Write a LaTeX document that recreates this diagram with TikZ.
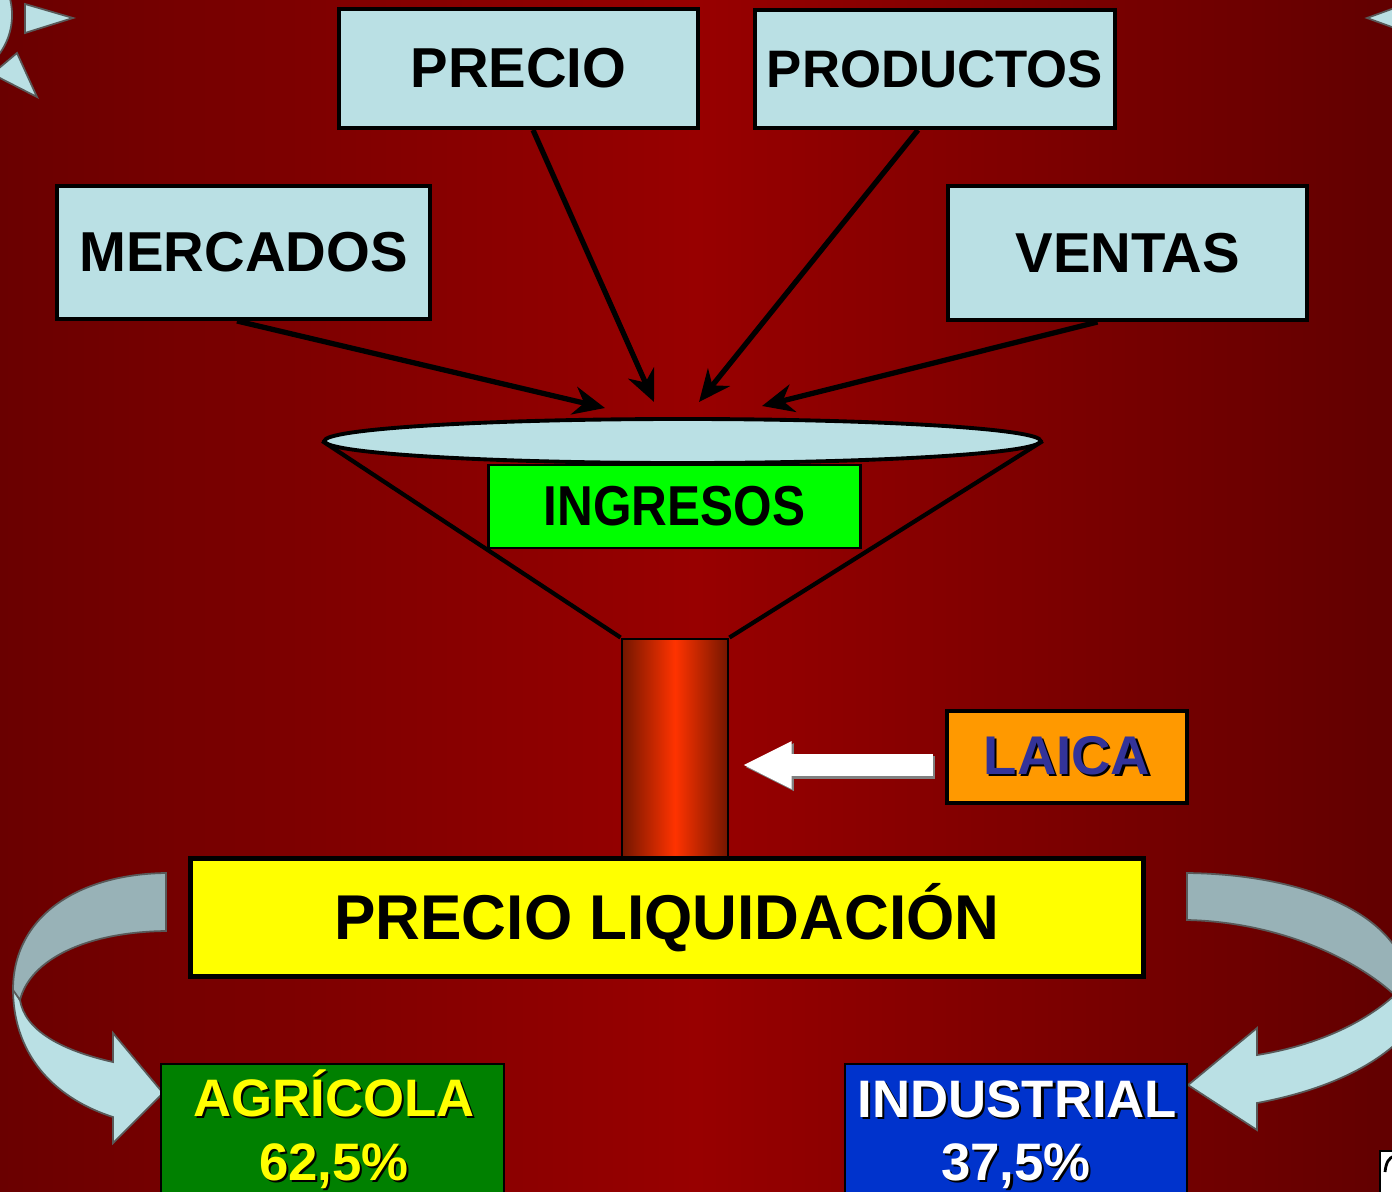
\documentclass[tikz,border=0pt]{standalone}
\usepackage{fontspec}
\setmainfont{Liberation Sans}
\usepackage{graphicx}
\usetikzlibrary{shapes.geometric,arrows.meta}

\definecolor{fondoborde}{RGB}{106,0,0}
\definecolor{fondomedio}{RGB}{152,0,0}
\definecolor{celeste}{RGB}{186,224,228}
\definecolor{celesteosc}{RGB}{152,178,183}
\definecolor{verdeclaro}{RGB}{0,255,0}
\definecolor{verdeoscuro}{RGB}{0,128,0}
\definecolor{azulfuerte}{RGB}{0,51,204}
\definecolor{azullaica}{RGB}{51,51,153}
\definecolor{naranja}{RGB}{255,153,0}
\definecolor{amarillo}{RGB}{255,255,0}
\definecolor{tuboborde}{RGB}{115,22,0}
\definecolor{tubomedio}{RGB}{255,51,0}

\newcommand{\sombra}[2]{\leavevmode\rlap{\hspace{0.6pt}\raisebox{-0.6pt}{\color{black}#2}}\textcolor{#1}{#2}}

\begin{document}
\begin{tikzpicture}[x=0.01cm, y=-0.01cm,
  caja/.style={rectangle, draw=black, line width=1.1pt, fill=celeste, inner sep=0pt, font=\fontsize{16}{19}\selectfont\bfseries},
  sector/.style={rectangle, draw=black, line width=0.6pt, inner sep=0pt},
  texto/.style={anchor=base, inner sep=0pt, font=\fontsize{15}{18}\selectfont\bfseries},
  flecha/.style={-{Stealth[length=9pt,width=8pt]}, line width=1.5pt},
  giro/.style={draw=black!65, line width=0.5pt}]

\useasboundingbox (0,0) rectangle (1392,1191);
\clip (0,0) rectangle (1392,1191);
\fill[left color=fondoborde, right color=fondoborde!92!black, middle color=fondomedio] (0,0) rectangle (1392,1191);

% restos en las esquinas
\filldraw[giro, fill=celeste] (-54,15) circle[radius=0.66cm];
\filldraw[giro, fill=celeste] (25,4) -- (73,18) -- (25,33) -- cycle;
\filldraw[giro, fill=celeste] (17,53) -- (37,97) -- (-8,74) -- cycle;
\filldraw[giro, fill=celeste] (1367,18) -- (1400,6) -- (1400,30) -- cycle;
\filldraw[fill=white, draw=black, line width=0.8pt] (1380,1200) -- (1380,1151) -- (1400,1151) -- (1400,1200) -- cycle;
\draw[line width=0.8pt] (1385,1172) .. controls (1386,1162) and (1389,1158) .. (1394,1156);

% flechas curvas
\filldraw[giro, fill=celeste] (13,988) .. controls (13,1060) and (60,1100) .. (113,1117) -- (113,1143) -- (163,1093) -- (113,1033) -- (113,1062) .. controls (60,1050) and (25,1030) .. (20,1000) -- cycle;
\filldraw[giro, fill=celesteosc] (166,873) .. controls (80,874) and (13,915) .. (13,990) -- (20,1000) .. controls (30,960) and (85,932) .. (166,931) -- cycle;
\filldraw[giro, fill=celeste] (1400,990) -- (1400,1040) .. controls (1360,1078) and (1300,1095) .. (1257,1103) -- (1257,1130) -- (1188,1085) -- (1257,1028) -- (1257,1055) .. controls (1320,1045) and (1370,1020) .. (1400,990) -- cycle;
\filldraw[giro, fill=celesteosc] (1187,873) .. controls (1280,874) and (1370,900) .. (1400,955) -- (1400,1000) .. controls (1360,960) and (1280,922) .. (1187,920) -- cycle;

% embudo
\node[ellipse, draw=black, line width=1.1pt, fill=celeste, minimum width=7.16cm, minimum height=0.44cm, inner sep=0pt] (boca) at (682.5,441) {};
\node[rectangle, draw=black, line width=0.8pt, left color=tuboborde, right color=tuboborde, middle color=tubomedio, minimum width=1.06cm, minimum height=2.19cm, inner sep=0pt] (tubo) at (675,748.5) {};
\draw[line width=1.2pt] (boca.west) -- (tubo.north west);
\draw[line width=1.2pt] (boca.east) -- (tubo.north east);
\node[sector, line width=0.8pt, fill=verdeclaro, minimum width=3.71cm, minimum height=0.83cm, font=\fontsize{16}{19}\selectfont\bfseries] (ingresos) at (674.5,506.5) {\scalebox{0.88}[1]{INGRESOS}};

% factores
\node[caja, minimum width=3.59cm, minimum height=1.19cm] (precio) at (518.5,68.5) {PRECIO};
\node[caja, minimum width=3.6cm, minimum height=1.18cm, font=\fontsize{15}{18}\selectfont\bfseries] (productos) at (935,69) {PRODUCTOS};
\node[caja, minimum width=3.73cm, minimum height=1.33cm] (mercados) at (243.5,252.5) {MERCADOS};
\node[caja, minimum width=3.59cm, minimum height=1.34cm] (ventas) at (1127.5,253) {VENTAS};

\coordinate (llegaM) at (605,408);
\coordinate (llegaP) at (654,402);
\coordinate (llegaR) at (699,402);
\coordinate (llegaV) at (762,406);
\draw[flecha] ([xshift=-0.065cm]mercados.south) -- (llegaM);
\draw[flecha] ([xshift=0.145cm]precio.south) -- (llegaP);
\draw[flecha] ([xshift=-0.17cm]productos.south) -- (llegaR);
\draw[flecha] ([xshift=-0.3cm]ventas.south) -- (llegaV);

% LAICA
\node[rectangle, draw=black, line width=1.3pt, fill=naranja, minimum width=2.4cm, minimum height=0.92cm, inner sep=0pt, font=\fontsize{15.5}{18}\selectfont\bfseries] (laica) at (1067,757) {\sombra{azullaica}{LAICA}};
\coordinate (inicio) at ([xshift=-0.12cm,yshift=-0.08cm]laica.west);
\path (tubo.east |- inicio) coordinate (punta);
\draw[gray, line width=6.5pt, -{Triangle[length=14pt,width=12.5pt]}, transform canvas={xshift=0.6pt,yshift=-0.6pt}] (inicio) -- ([xshift=0.13cm]punta);
\draw[white, line width=6.5pt, -{Triangle[length=14pt,width=12.5pt]}] (inicio) -- ([xshift=0.13cm]punta);

% reparto
\node[rectangle, draw=black, line width=1.4pt, fill=amarillo, minimum width=9.53cm, minimum height=1.18cm, inner sep=0pt, font=\fontsize{18}{21}\selectfont\bfseries] (liquidacion) at (667,917.5) {\scalebox{0.98}[1]{PRECIO LIQUIDACIÓN}};
\node[sector, fill=verdeoscuro, minimum width=3.43cm, minimum height=1.5cm] (agricola) at (332.5,1139) {};
\node[texto] (agricola1) at (334,1116) {\sombra{amarillo}{AGRÍCOLA}};
\node[texto] (agricola2) at (334,1180) {\sombra{amarillo}{62,5\%}};
\node[sector, fill=azulfuerte, minimum width=3.42cm, minimum height=1.5cm] (industrial) at (1016,1139) {};
\node[texto] (industrial1) at (1017.5,1117) {\sombra{white}{INDUSTRIAL}};
\node[texto] (industrial2) at (1016,1180) {\sombra{white}{37,5\%}};
\end{tikzpicture}
\end{document}
